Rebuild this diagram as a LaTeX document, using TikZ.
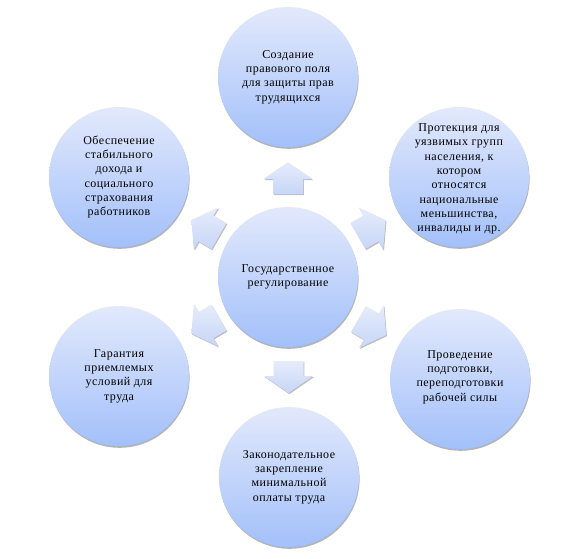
\documentclass[tikz,border=0pt]{standalone}
\usepackage{fontspec}
\newfontfamily\tnr[LetterSpace=4]{Liberation Serif}
\usetikzlibrary{shadows,calc}
\definecolor{ctop}{HTML}{E2E9FC}
\definecolor{cbot}{HTML}{A3C0FA}
\definecolor{atop}{HTML}{E6ECFB}
\definecolor{abot}{HTML}{C6D6F7}
\tikzset{
  bubble/.style={circle, minimum size=140pt, inner sep=0pt, draw=none,
    top color=ctop, bottom color=cbot,
    drop shadow={opacity=0.45, fill=gray!70!black, shadow xshift=0.6pt, shadow yshift=-1.8pt}},
  btext/.style={align=center, font=\tnr\fontsize{12}{14.3}\selectfont, inner sep=0pt},
  arrowfill/.style={top color=atop, bottom color=abot,
    drop shadow={opacity=0.4, fill=gray!70!black, shadow xshift=0.8pt, shadow yshift=-1.2pt}},
  barrow/.pic={\path[arrowfill] (-16,-15) -- (-1,-15) -- (-1,-24.5) -- (16,0) -- (-1,24.5) -- (-1,15) -- (-16,15) -- cycle;}
}
\begin{document}
\begin{tikzpicture}[x=1pt,y=-1pt]
\useasboundingbox (0,0) rectangle (576,559);
\node[bubble] (c) at (288,277) {};
\node[bubble] (t) at (288,77) {};
\node[bubble] (b) at (289,477) {};
\node[bubble] (tl) at (119,177) {};
\node[bubble] (tr) at (459,177) {};
\node[bubble] (bl) at (119,376) {};
\node[bubble] (br) at (460,379) {};
\node[btext] (ct) at (c.center) {Государственное\\регулирование};
\node[btext] (tt) at (t.center) {Создание\\правового поля\\для защиты прав\\трудящихся};
\node[btext] (bt) at (b.center) {Законодательное\\закрепление\\минимальной\\оплаты труда};
\node[btext] (tlt) at (tl.center) {Обеспечение\\стабильного\\дохода и\\социального\\страхования\\работников};
\node[btext] (trt) at ([yshift=-2pt]tr.center) {Протекция для\\уязвимых групп\\населения, к\\котором\\относятся\\национальные\\меньшинства,\\инвалиды и др.};
\node[btext] (blt) at (bl.center) {Гарантия\\приемлемых\\условий для\\труда};
\node[btext] (brt) at ([yshift=2pt]br.center) {Проведение\\подготовки,\\переподготовки\\рабочей силы};
\pic[rotate=90] at ($(c)!0.495!(t)$) {barrow};
\pic[rotate=-90] at ($(c)!0.5!(b)$) {barrow};
\pic[rotate=150] at ($(c)!0.49!(tl)$) {barrow};
\pic[rotate=30] at ($(c)!0.49!(tr)$) {barrow};
\pic[rotate=210] at ($(c)!0.49!(bl)$) {barrow};
\pic[rotate=-30] at ($(c)!0.49!(br)$) {barrow};
\end{tikzpicture}
\end{document}
